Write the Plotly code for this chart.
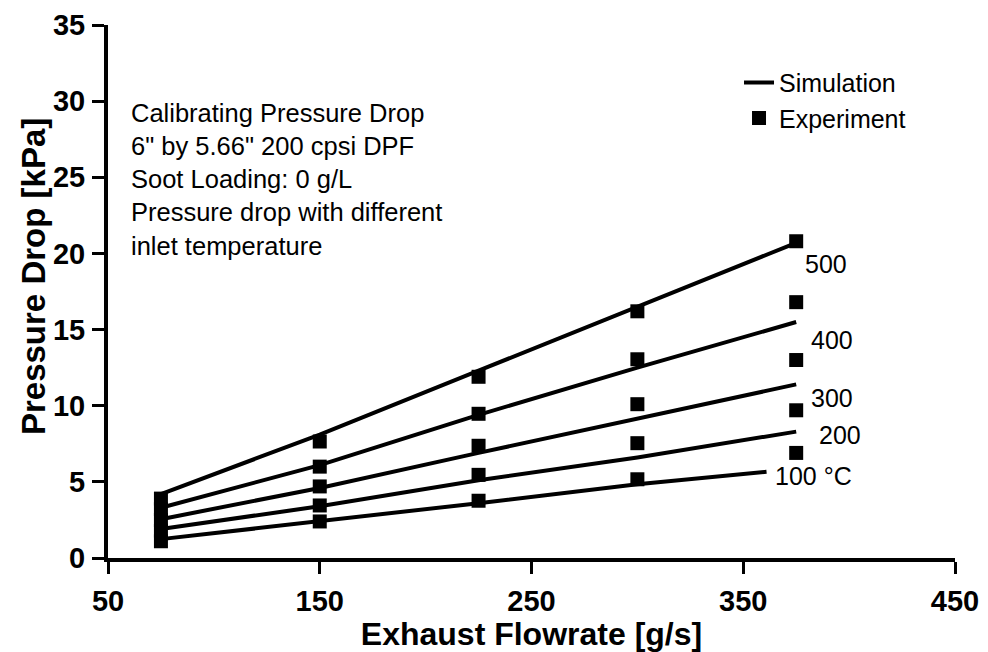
import plotly.graph_objects as go

# Data
temps = ["100", "200", "300", "400", "500"]
temp_labels = ["100 °C", "200", "300", "400", "500"]

flow = [75, 150, 225, 300, 375]

# Simulation lines (kPa)
sim_x = {
    "100": [75, 150, 225, 300, 361],
    "200": [75, 150, 225, 300, 375],
    "300": [75, 150, 225, 300, 375],
    "400": [75, 150, 225, 300, 375],
    "500": [75, 150, 225, 300, 375],
}
sim_y = {
    "100": [1.24, 2.4, 3.6, 4.85, 5.66],
    "200": [1.9, 3.4, 5.1, 6.6, 8.3],
    "300": [2.55, 4.6, 6.9, 9.15, 11.4],
    "400": [3.3, 6.1, 9.4, 12.5, 15.5],
    "500": [4.2, 8.1, 12.3, 16.5, 20.7],
}

# Experiment points (kPa)
exp_y = {
    "100": [1.1, 2.4, 3.76, 5.17, 6.9],
    "200": [1.8, 3.45, 5.46, 7.54, 9.7],
    "300": [2.5, 4.7, 7.37, 10.1, 13.0],
    "400": [3.2, 6.0, 9.47, 13.05, 16.8],
    "500": [3.9, 7.65, 11.9, 16.2, 20.8],
}

# Label positions for the curves
label_x = [364, 385, 381, 381, 378]
label_y = [5.4, 8.1, 10.5, 14.3, 19.3]

x_ticks = [50, 150, 250, 350, 450]
y_ticks = [0, 5, 10, 15, 20, 25, 30, 35]

x_title = "Exhaust Flowrate [g/s]"
y_title = "Pressure Drop [kPa]"

info_text = ("Calibrating Pressure Drop<br>6\" by 5.66\" 200 cpsi DPF<br>"
             "Soot Loading: 0 g/L<br>Pressure drop with different<br>inlet temperature")

FONT = "Liberation Sans, Arial, sans-serif"

fig = go.Figure()

for i, t in enumerate(temps):
    fig.add_trace(go.Scatter(
        x=sim_x[t], y=sim_y[t], mode="lines",
        line=dict(color="black", width=4),
        name="Simulation", legendgroup="sim", showlegend=(i == 0),
    ))
for i, t in enumerate(temps):
    fig.add_trace(go.Scatter(
        x=flow, y=exp_y[t], mode="markers",
        marker=dict(symbol="square", color="black", size=14),
        name="Experiment", legendgroup="exp", showlegend=(i == 0),
    ))

for lab, lx, ly in zip(temp_labels, label_x, label_y):
    fig.add_annotation(x=lx, y=ly, text=lab, showarrow=False,
                       xanchor="left", yanchor="middle",
                       font=dict(family=FONT, size=25, color="black"))

fig.add_annotation(x=0.025, y=0.865, xref="paper", yref="paper",
                   text=info_text, showarrow=False, align="left",
                   xanchor="left", yanchor="top",
                   font=dict(family=FONT, size=25.5, color="black"))

# y-axis title placed as rotated text
fig.add_annotation(x=-0.088, y=0.528, xref="paper", yref="paper",
                   text="<b>" + y_title + "</b>", showarrow=False, textangle=-90,
                   xanchor="center", yanchor="middle",
                   font=dict(family=FONT, size=33, color="black"))

fig.update_layout(
    width=988, height=652,
    margin=dict(l=108, r=33, t=25, b=94),
    paper_bgcolor="white", plot_bgcolor="white",
    font=dict(family=FONT, color="black"),
    legend=dict(x=0.745, y=0.935, xanchor="left", yanchor="top",
                font=dict(family=FONT, size=25, color="black"),
                bgcolor="rgba(0,0,0,0)", tracegroupgap=0),
    xaxis=dict(
        range=[50, 450], tickvals=x_ticks, showgrid=False, zeroline=False,
        showline=True, linecolor="black", linewidth=4,
        ticks="outside", ticklen=12, tickwidth=3, tickcolor="black",
        ticklabelstandoff=2,
        tickfont=dict(family=FONT, size=29, color="black", weight="bold"),
        title=dict(text="<b>" + x_title + "</b>", standoff=0,
                   font=dict(family=FONT, size=32, color="black")),
        automargin=False,
    ),
    yaxis=dict(
        range=[0, 35], tickvals=y_ticks, showgrid=False, zeroline=False,
        showline=True, linecolor="black", linewidth=4,
        ticks="outside", ticklen=12, tickwidth=3, tickcolor="black",
        ticklabelstandoff=1,
        tickfont=dict(family=FONT, size=29, color="black", weight="bold"),
        automargin=False,
    ),
)

fig.write_html("out.html", config={"displayModeBar": False},
               post_script="document.body.style.margin='0';")
